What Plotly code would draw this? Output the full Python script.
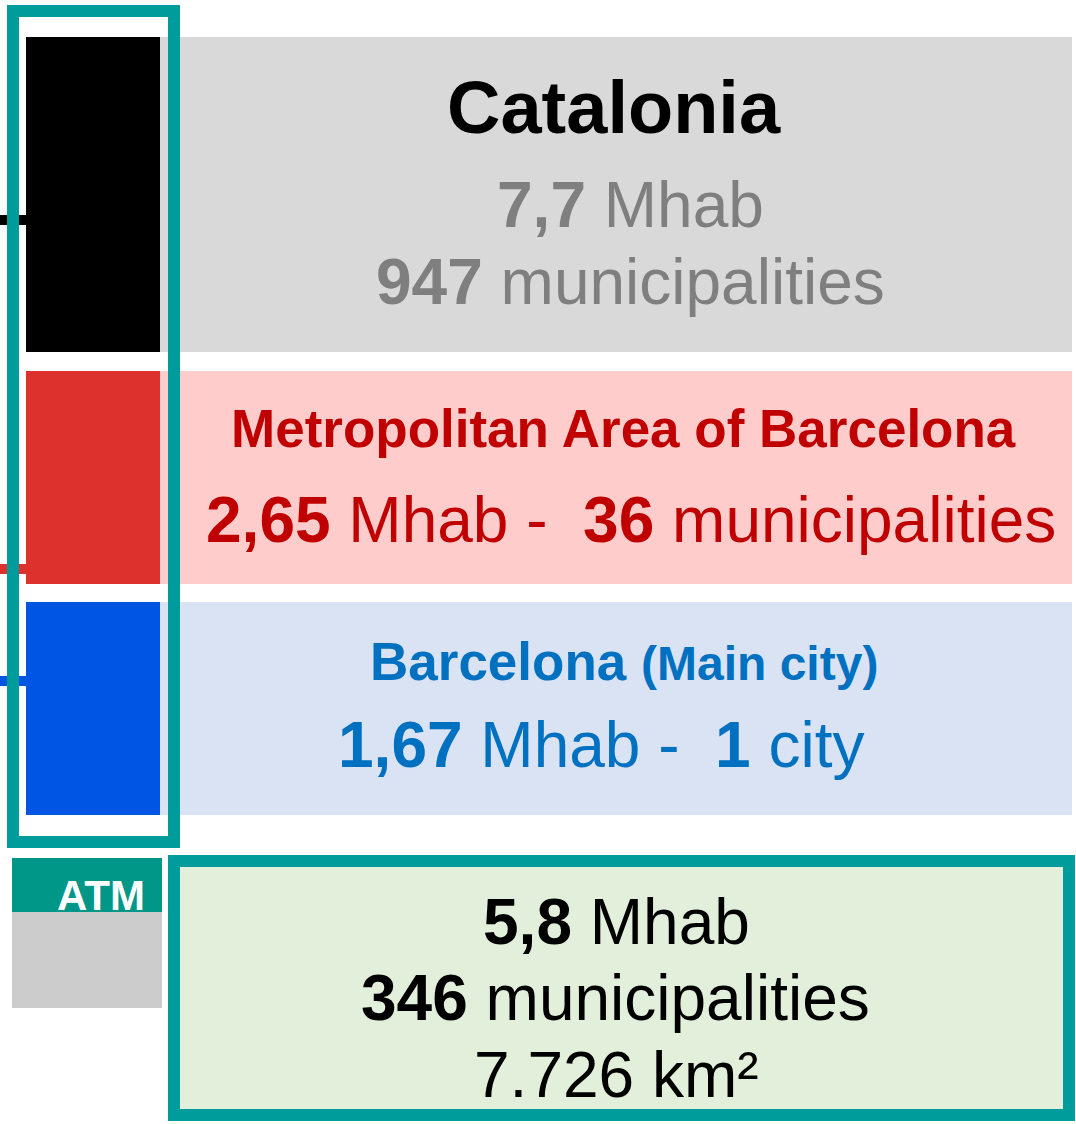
import plotly.graph_objects as go

# ---------------- data ----------------
regions = ["Catalonia", "Metropolitan Area of Barcelona", "Barcelona"]
region_suffix = ["", "", "(Main city)"]
population_mhab = ["7,7", "2,65", "1,67"]
unit_counts = ["947", "36", "1"]
unit_labels = ["municipalities", "municipalities", "city"]

atm_label = "ATM"
atm_population_mhab = "5,8"
atm_municipalities = "346"
atm_area_km2 = "7.726"

# ---------------- styles / layout ----------------
W, H = 1076, 1124
FONT = "Liberation Sans, Arial, sans-serif"
TEAL = "#009b9b"

swatch_colors = ["#000000", "#dc312c", "#0055e3"]
panel_colors = ["#d9d9d9", "#ffcccc", "#dae3f3"]
text_colors = ["#000000", "#c00000", "#0070c0"]
sub_text_colors = ["#7f7f7f", "#c00000", "#0070c0"]
rows_y = [(37, 352), (371, 584), (602, 815)]
stub_y = [220, 569, 681]

fig = go.Figure()

shapes = []
annotations = []

# left stub lines (below frame)
for yy, col in zip(stub_y, swatch_colors):
    shapes.append(dict(type="line", x0=0, x1=27, y0=yy, y1=yy,
                       line=dict(color=col, width=10), layer="below"))

for i in range(3):
    y0, y1 = rows_y[i]
    shapes.append(dict(type="rect", x0=160, x1=1072, y0=y0, y1=y1,
                       fillcolor=panel_colors[i], line_width=0, layer="below"))
    shapes.append(dict(type="rect", x0=26, x1=160, y0=y0, y1=y1,
                       fillcolor=swatch_colors[i], line_width=0, layer="below"))

# teal frame around swatches
shapes.append(dict(type="rect", x0=13, x1=174, y0=11, y1=842,
                   fillcolor="rgba(0,0,0,0)", line=dict(color=TEAL, width=12), layer="above"))

# ATM box
shapes.append(dict(type="rect", x0=174, x1=1069, y0=861, y1=1115,
                   fillcolor="#e2efda", line=dict(color=TEAL, width=12), layer="below"))

# ATM logo
shapes.append(dict(type="rect", x0=12, x1=162, y0=858, y1=912,
                   fillcolor="#009688", line_width=0, layer="below"))
shapes.append(dict(type="rect", x0=12, x1=162, y0=912, y1=1008,
                   fillcolor="#cccccc", line_width=0, layer="above"))

fig.add_trace(go.Scatter(
    x=[101], y=[899], mode="text", text=[f"<b>{atm_label}</b>"],
    textposition="middle center",
    textfont=dict(family=FONT, size=42, color="white"),
    hoverinfo="skip", showlegend=False))

# ---------- texts ----------
def ann(x, y, text, size, color):
    annotations.append(dict(x=x, y=y, xref="x", yref="y", text=text, showarrow=False,
                            xanchor="center", yanchor="middle",
                            font=dict(family=FONT, size=size, color=color)))

# Catalonia
ann(614, 107, f"<b>{regions[0]}</b>", 74, text_colors[0])
ann(630, 205, f"<b>{population_mhab[0]}</b> Mhab", 64, sub_text_colors[0])
ann(630, 282, f"<b>{unit_counts[0]}</b> {unit_labels[0]}", 64, sub_text_colors[0])

# Metropolitan area
ann(623, 428, f"<b>{regions[1]}</b>", 53, text_colors[1])
ann(631, 520, f"<b>{population_mhab[1]}</b> Mhab -  <b>{unit_counts[1]}</b> {unit_labels[1]}",
    64, sub_text_colors[1])

# Barcelona
ann(624, 661, f"<b>{regions[2]} <span style='font-size:48px'>{region_suffix[2]}</span></b>",
    53, text_colors[2])
ann(601, 745, f"<b>{population_mhab[2]}</b> Mhab -  <b>{unit_counts[2]}</b> {unit_labels[2]}",
    64, sub_text_colors[2])

# ATM area
ann(616, 922, f"<b>{atm_population_mhab}</b> Mhab", 64, "#000000")
ann(615, 998, f"<b>{atm_municipalities}</b> municipalities", 64, "#000000")
ann(616, 1075, f"{atm_area_km2} km²", 64, "#000000")

fig.update_layout(
    width=W, height=H,
    margin=dict(l=0, r=0, t=0, b=0),
    paper_bgcolor="white", plot_bgcolor="white",
    xaxis=dict(range=[0, W], visible=False, fixedrange=True),
    yaxis=dict(range=[H, 0], visible=False, fixedrange=True),
    shapes=shapes, annotations=annotations,
    showlegend=False,
)

fig.write_html("out.html", config={"displayModeBar": False},
               post_script="document.body.style.margin='0';document.body.style.overflow='hidden';")
